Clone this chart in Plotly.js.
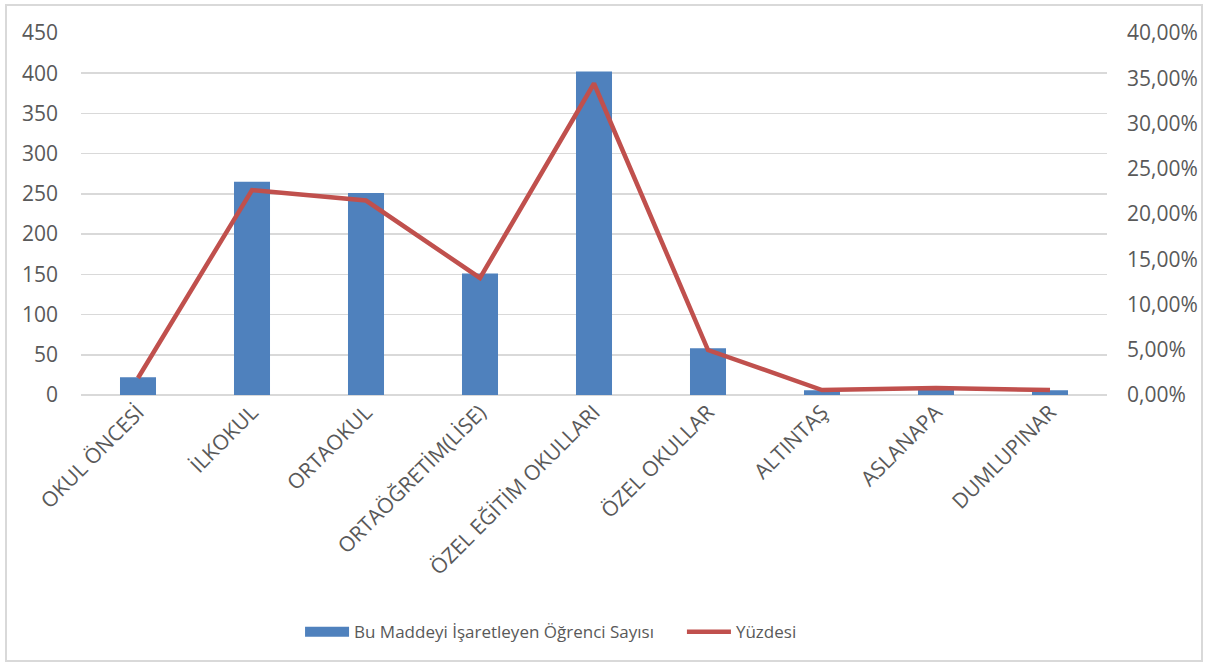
<!DOCTYPE html>
<html>
<head>
<meta charset="utf-8">
<script src="https://cdn.plot.ly/plotly-3.0.1.min.js"></script>
<style>
html,body{margin:0;padding:0;background:#fff;}
#chart{width:1207px;height:664px;position:relative;}
#frame{position:absolute;left:5px;top:4px;width:1194px;height:654px;border:2px solid #d9d9d9;pointer-events:none;}
</style>
</head>
<body>
<div style="position:relative;width:1207px;height:664px;">
<div id="chart"></div>
<div id="frame"></div>
</div>
<script>
const categories = ["OKUL ÖNCESİ","İLKOKUL","ORTAOKUL","ORTAÖĞRETİM(LİSE)","ÖZEL EĞİTİM OKULLARI","ÖZEL OKULLAR","ALTINTAŞ","ASLANAPA","DUMLUPINAR"];
const studentCounts = [22, 265, 251, 151, 402, 58, 6, 7, 6];
const percentages = [0.0188, 0.2265, 0.2149, 0.1293, 0.3442, 0.0497, 0.0055, 0.0077, 0.0055];
const seriesNames = ["Bu Maddeyi İşaretleyen Öğrenci Sayısı", "Yüzdesi"];

const tickFont = {family: "Open Sans, sans-serif", size: 21, color: "#595959"};
const legendFont = {family: "Open Sans, sans-serif", size: 17, color: "#595959"};

const data = [
  {type: "bar", x: categories, y: studentCounts, name: seriesNames[0],
   marker: {color: "#4f81bd"}, yaxis: "y", showlegend: false},
  {type: "scatter", mode: "lines", x: categories, y: percentages, name: seriesNames[1],
   line: {color: "#c0504d", width: 4.5}, yaxis: "y2", legend: "legend2"},
  // legend-only entry for the bar series (wide swatch like the original)
  {type: "scatter", mode: "lines", x: [null], y: [null], name: seriesNames[0],
   line: {color: "#4f81bd", width: 12}, yaxis: "y", legend: "legend", hoverinfo: "skip"}
];

const layout = {
  width: 1207, height: 664,
  margin: {l: 81, r: 100, t: 33, b: 269},
  paper_bgcolor: "#fff", plot_bgcolor: "#fff",
  separators: ", ",
  font: tickFont,
  bargap: 0.684,
  showlegend: true,
  legend: {orientation: "h", x: 0.2135, xanchor: "left", y: -0.655, yanchor: "middle",
           font: legendFont, itemwidth: 44, bgcolor: "rgba(0,0,0,0)"},
  legend2: {orientation: "h", x: 0.5857, xanchor: "left", y: -0.655, yanchor: "middle",
           font: legendFont, itemwidth: 44, bgcolor: "rgba(0,0,0,0)"},
  xaxis: {tickangle: -45, tickfont: tickFont, showgrid: false, zeroline: false, showline: false, ticks: "", automargin: false},
  yaxis: {range: [0, 450], dtick: 50, tickfont: tickFont, gridcolor: "#d9d9d9", gridwidth: 1.5,
          zeroline: true, zerolinecolor: "#d9d9d9", zerolinewidth: 1.5, showline: false, ticks: "", ticklabelstandoff: 22, automargin: false},
  yaxis2: {range: [0, 0.4], dtick: 0.05, tickformat: ".2%", tickfont: tickFont, overlaying: "y", side: "right",
           showgrid: false, zeroline: false, showline: false, ticks: "", ticklabelstandoff: 19, automargin: false}
};

Plotly.newPlot("chart", data, layout, {displayModeBar: false, staticPlot: true});
</script>
</body>
</html>
